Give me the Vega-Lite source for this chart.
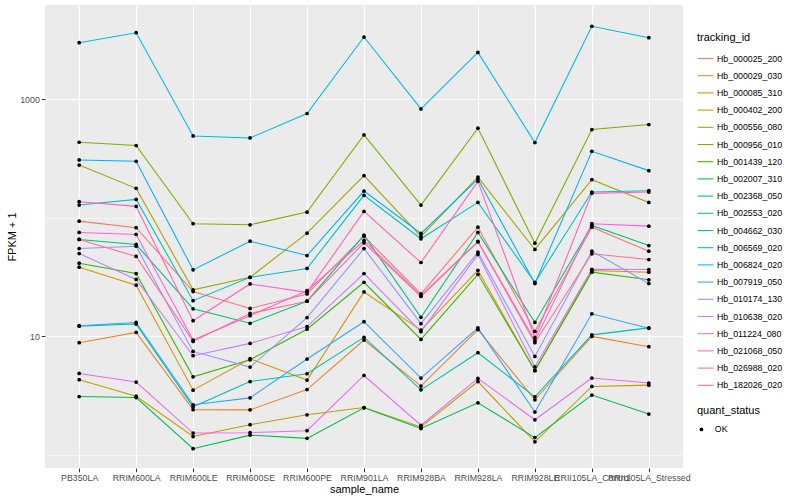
{
"$schema": "https://vega.github.io/schema/vega-lite/v6.json",
"width": 638, "height": 463,
"autosize": {"type": "none"},
"padding": {"left": 45, "top": 5, "right": 117, "bottom": 32},
"background": "white",
"data": {"values": [
{"tracking_id":"Hb_000025_200","sample_name":"PB350LA","fpkm":93.8,"quant_status":"OK"},
{"tracking_id":"Hb_000025_200","sample_name":"RRIM600LA","fpkm":82.5,"quant_status":"OK"},
{"tracking_id":"Hb_000025_200","sample_name":"RRIM600LE","fpkm":23.9,"quant_status":"OK"},
{"tracking_id":"Hb_000025_200","sample_name":"RRIM600SE","fpkm":17.2,"quant_status":"OK"},
{"tracking_id":"Hb_000025_200","sample_name":"RRIM600PE","fpkm":22.8,"quant_status":"OK"},
{"tracking_id":"Hb_000025_200","sample_name":"RRIM901LA","fpkm":70.0,"quant_status":"OK"},
{"tracking_id":"Hb_000025_200","sample_name":"RRIM928BA","fpkm":22.8,"quant_status":"OK"},
{"tracking_id":"Hb_000025_200","sample_name":"RRIM928LA","fpkm":83.4,"quant_status":"OK"},
{"tracking_id":"Hb_000025_200","sample_name":"RRIM928LE","fpkm":11.0,"quant_status":"OK"},
{"tracking_id":"Hb_000025_200","sample_name":"RRII105LA_Control","fpkm":83.4,"quant_status":"OK"},
{"tracking_id":"Hb_000025_200","sample_name":"RRII105LA_Stressed","fpkm":52.3,"quant_status":"OK"},
{"tracking_id":"Hb_000029_030","sample_name":"PB350LA","fpkm":8.85,"quant_status":"OK"},
{"tracking_id":"Hb_000029_030","sample_name":"RRIM600LA","fpkm":10.8,"quant_status":"OK"},
{"tracking_id":"Hb_000029_030","sample_name":"RRIM600LE","fpkm":2.41,"quant_status":"OK"},
{"tracking_id":"Hb_000029_030","sample_name":"RRIM600SE","fpkm":2.40,"quant_status":"OK"},
{"tracking_id":"Hb_000029_030","sample_name":"RRIM600PE","fpkm":3.56,"quant_status":"OK"},
{"tracking_id":"Hb_000029_030","sample_name":"RRIM901LA","fpkm":9.32,"quant_status":"OK"},
{"tracking_id":"Hb_000029_030","sample_name":"RRIM928BA","fpkm":3.81,"quant_status":"OK"},
{"tracking_id":"Hb_000029_030","sample_name":"RRIM928LA","fpkm":11.4,"quant_status":"OK"},
{"tracking_id":"Hb_000029_030","sample_name":"RRIM928LE","fpkm":2.92,"quant_status":"OK"},
{"tracking_id":"Hb_000029_030","sample_name":"RRII105LA_Control","fpkm":10.0,"quant_status":"OK"},
{"tracking_id":"Hb_000029_030","sample_name":"RRII105LA_Stressed","fpkm":8.18,"quant_status":"OK"},
{"tracking_id":"Hb_000085_310","sample_name":"PB350LA","fpkm":38.3,"quant_status":"OK"},
{"tracking_id":"Hb_000085_310","sample_name":"RRIM600LA","fpkm":27.0,"quant_status":"OK"},
{"tracking_id":"Hb_000085_310","sample_name":"RRIM600LE","fpkm":3.52,"quant_status":"OK"},
{"tracking_id":"Hb_000085_310","sample_name":"RRIM600SE","fpkm":6.48,"quant_status":"OK"},
{"tracking_id":"Hb_000085_310","sample_name":"RRIM600PE","fpkm":4.28,"quant_status":"OK"},
{"tracking_id":"Hb_000085_310","sample_name":"RRIM901LA","fpkm":23.7,"quant_status":"OK"},
{"tracking_id":"Hb_000085_310","sample_name":"RRIM928BA","fpkm":11.3,"quant_status":"OK"},
{"tracking_id":"Hb_000085_310","sample_name":"RRIM928LA","fpkm":36.1,"quant_status":"OK"},
{"tracking_id":"Hb_000085_310","sample_name":"RRIM928LE","fpkm":5.13,"quant_status":"OK"},
{"tracking_id":"Hb_000085_310","sample_name":"RRII105LA_Control","fpkm":35.9,"quant_status":"OK"},
{"tracking_id":"Hb_000085_310","sample_name":"RRII105LA_Stressed","fpkm":34.8,"quant_status":"OK"},
{"tracking_id":"Hb_000402_200","sample_name":"PB350LA","fpkm":4.31,"quant_status":"OK"},
{"tracking_id":"Hb_000402_200","sample_name":"RRIM600LA","fpkm":3.13,"quant_status":"OK"},
{"tracking_id":"Hb_000402_200","sample_name":"RRIM600LE","fpkm":1.43,"quant_status":"OK"},
{"tracking_id":"Hb_000402_200","sample_name":"RRIM600SE","fpkm":1.80,"quant_status":"OK"},
{"tracking_id":"Hb_000402_200","sample_name":"RRIM600PE","fpkm":2.18,"quant_status":"OK"},
{"tracking_id":"Hb_000402_200","sample_name":"RRIM901LA","fpkm":2.51,"quant_status":"OK"},
{"tracking_id":"Hb_000402_200","sample_name":"RRIM928BA","fpkm":1.72,"quant_status":"OK"},
{"tracking_id":"Hb_000402_200","sample_name":"RRIM928LA","fpkm":4.16,"quant_status":"OK"},
{"tracking_id":"Hb_000402_200","sample_name":"RRIM928LE","fpkm":1.29,"quant_status":"OK"},
{"tracking_id":"Hb_000402_200","sample_name":"RRII105LA_Control","fpkm":3.78,"quant_status":"OK"},
{"tracking_id":"Hb_000402_200","sample_name":"RRII105LA_Stressed","fpkm":3.88,"quant_status":"OK"},
{"tracking_id":"Hb_000556_080","sample_name":"PB350LA","fpkm":278.9,"quant_status":"OK"},
{"tracking_id":"Hb_000556_080","sample_name":"RRIM600LA","fpkm":177.2,"quant_status":"OK"},
{"tracking_id":"Hb_000556_080","sample_name":"RRIM600LE","fpkm":24.7,"quant_status":"OK"},
{"tracking_id":"Hb_000556_080","sample_name":"RRIM600SE","fpkm":31.5,"quant_status":"OK"},
{"tracking_id":"Hb_000556_080","sample_name":"RRIM600PE","fpkm":74.3,"quant_status":"OK"},
{"tracking_id":"Hb_000556_080","sample_name":"RRIM901LA","fpkm":226.9,"quant_status":"OK"},
{"tracking_id":"Hb_000556_080","sample_name":"RRIM928BA","fpkm":69.6,"quant_status":"OK"},
{"tracking_id":"Hb_000556_080","sample_name":"RRIM928LA","fpkm":220.8,"quant_status":"OK"},
{"tracking_id":"Hb_000556_080","sample_name":"RRIM928LE","fpkm":54.1,"quant_status":"OK"},
{"tracking_id":"Hb_000556_080","sample_name":"RRII105LA_Control","fpkm":210.0,"quant_status":"OK"},
{"tracking_id":"Hb_000556_080","sample_name":"RRII105LA_Stressed","fpkm":134.9,"quant_status":"OK"},
{"tracking_id":"Hb_000956_010","sample_name":"PB350LA","fpkm":434,"quant_status":"OK"},
{"tracking_id":"Hb_000956_010","sample_name":"RRIM600LA","fpkm":407,"quant_status":"OK"},
{"tracking_id":"Hb_000956_010","sample_name":"RRIM600LE","fpkm":89.2,"quant_status":"OK"},
{"tracking_id":"Hb_000956_010","sample_name":"RRIM600SE","fpkm":87.4,"quant_status":"OK"},
{"tracking_id":"Hb_000956_010","sample_name":"RRIM600PE","fpkm":111.7,"quant_status":"OK"},
{"tracking_id":"Hb_000956_010","sample_name":"RRIM901LA","fpkm":500,"quant_status":"OK"},
{"tracking_id":"Hb_000956_010","sample_name":"RRIM928BA","fpkm":128.1,"quant_status":"OK"},
{"tracking_id":"Hb_000956_010","sample_name":"RRIM928LA","fpkm":569.8,"quant_status":"OK"},
{"tracking_id":"Hb_000956_010","sample_name":"RRIM928LE","fpkm":61.1,"quant_status":"OK"},
{"tracking_id":"Hb_000956_010","sample_name":"RRII105LA_Control","fpkm":555.5,"quant_status":"OK"},
{"tracking_id":"Hb_000956_010","sample_name":"RRII105LA_Stressed","fpkm":612.4,"quant_status":"OK"},
{"tracking_id":"Hb_001439_120","sample_name":"PB350LA","fpkm":41.4,"quant_status":"OK"},
{"tracking_id":"Hb_001439_120","sample_name":"RRIM600LA","fpkm":33.9,"quant_status":"OK"},
{"tracking_id":"Hb_001439_120","sample_name":"RRIM600LE","fpkm":4.56,"quant_status":"OK"},
{"tracking_id":"Hb_001439_120","sample_name":"RRIM600SE","fpkm":6.35,"quant_status":"OK"},
{"tracking_id":"Hb_001439_120","sample_name":"RRIM600PE","fpkm":11.5,"quant_status":"OK"},
{"tracking_id":"Hb_001439_120","sample_name":"RRIM901LA","fpkm":28.6,"quant_status":"OK"},
{"tracking_id":"Hb_001439_120","sample_name":"RRIM928BA","fpkm":9.43,"quant_status":"OK"},
{"tracking_id":"Hb_001439_120","sample_name":"RRIM928LA","fpkm":33.4,"quant_status":"OK"},
{"tracking_id":"Hb_001439_120","sample_name":"RRIM928LE","fpkm":5.16,"quant_status":"OK"},
{"tracking_id":"Hb_001439_120","sample_name":"RRII105LA_Control","fpkm":34.8,"quant_status":"OK"},
{"tracking_id":"Hb_001439_120","sample_name":"RRII105LA_Stressed","fpkm":30.0,"quant_status":"OK"},
{"tracking_id":"Hb_002007_310","sample_name":"PB350LA","fpkm":3.11,"quant_status":"OK"},
{"tracking_id":"Hb_002007_310","sample_name":"RRIM600LA","fpkm":3.05,"quant_status":"OK"},
{"tracking_id":"Hb_002007_310","sample_name":"RRIM600LE","fpkm":1.13,"quant_status":"OK"},
{"tracking_id":"Hb_002007_310","sample_name":"RRIM600SE","fpkm":1.47,"quant_status":"OK"},
{"tracking_id":"Hb_002007_310","sample_name":"RRIM600PE","fpkm":1.38,"quant_status":"OK"},
{"tracking_id":"Hb_002007_310","sample_name":"RRIM901LA","fpkm":2.50,"quant_status":"OK"},
{"tracking_id":"Hb_002007_310","sample_name":"RRIM928BA","fpkm":1.67,"quant_status":"OK"},
{"tracking_id":"Hb_002007_310","sample_name":"RRIM928LA","fpkm":2.75,"quant_status":"OK"},
{"tracking_id":"Hb_002007_310","sample_name":"RRIM928LE","fpkm":1.40,"quant_status":"OK"},
{"tracking_id":"Hb_002007_310","sample_name":"RRII105LA_Control","fpkm":3.20,"quant_status":"OK"},
{"tracking_id":"Hb_002007_310","sample_name":"RRII105LA_Stressed","fpkm":2.21,"quant_status":"OK"},
{"tracking_id":"Hb_002368_050","sample_name":"PB350LA","fpkm":65.7,"quant_status":"OK"},
{"tracking_id":"Hb_002368_050","sample_name":"RRIM600LA","fpkm":59.6,"quant_status":"OK"},
{"tracking_id":"Hb_002368_050","sample_name":"RRIM600LE","fpkm":17.1,"quant_status":"OK"},
{"tracking_id":"Hb_002368_050","sample_name":"RRIM600SE","fpkm":12.9,"quant_status":"OK"},
{"tracking_id":"Hb_002368_050","sample_name":"RRIM600PE","fpkm":19.8,"quant_status":"OK"},
{"tracking_id":"Hb_002368_050","sample_name":"RRIM901LA","fpkm":71.4,"quant_status":"OK"},
{"tracking_id":"Hb_002368_050","sample_name":"RRIM928BA","fpkm":14.5,"quant_status":"OK"},
{"tracking_id":"Hb_002368_050","sample_name":"RRIM928LA","fpkm":75.3,"quant_status":"OK"},
{"tracking_id":"Hb_002368_050","sample_name":"RRIM928LE","fpkm":13.1,"quant_status":"OK"},
{"tracking_id":"Hb_002368_050","sample_name":"RRII105LA_Control","fpkm":86.2,"quant_status":"OK"},
{"tracking_id":"Hb_002368_050","sample_name":"RRII105LA_Stressed","fpkm":58.4,"quant_status":"OK"},
{"tracking_id":"Hb_002553_020","sample_name":"PB350LA","fpkm":12.2,"quant_status":"OK"},
{"tracking_id":"Hb_002553_020","sample_name":"RRIM600LA","fpkm":12.7,"quant_status":"OK"},
{"tracking_id":"Hb_002553_020","sample_name":"RRIM600LE","fpkm":2.55,"quant_status":"OK"},
{"tracking_id":"Hb_002553_020","sample_name":"RRIM600SE","fpkm":4.16,"quant_status":"OK"},
{"tracking_id":"Hb_002553_020","sample_name":"RRIM600PE","fpkm":4.84,"quant_status":"OK"},
{"tracking_id":"Hb_002553_020","sample_name":"RRIM901LA","fpkm":9.81,"quant_status":"OK"},
{"tracking_id":"Hb_002553_020","sample_name":"RRIM928BA","fpkm":3.54,"quant_status":"OK"},
{"tracking_id":"Hb_002553_020","sample_name":"RRIM928LA","fpkm":7.28,"quant_status":"OK"},
{"tracking_id":"Hb_002553_020","sample_name":"RRIM928LE","fpkm":3.09,"quant_status":"OK"},
{"tracking_id":"Hb_002553_020","sample_name":"RRII105LA_Control","fpkm":10.3,"quant_status":"OK"},
{"tracking_id":"Hb_002553_020","sample_name":"RRII105LA_Stressed","fpkm":11.8,"quant_status":"OK"},
{"tracking_id":"Hb_004662_030","sample_name":"PB350LA","fpkm":128.1,"quant_status":"OK"},
{"tracking_id":"Hb_004662_030","sample_name":"RRIM600LA","fpkm":143.0,"quant_status":"OK"},
{"tracking_id":"Hb_004662_030","sample_name":"RRIM600LE","fpkm":20.0,"quant_status":"OK"},
{"tracking_id":"Hb_004662_030","sample_name":"RRIM600SE","fpkm":31.5,"quant_status":"OK"},
{"tracking_id":"Hb_004662_030","sample_name":"RRIM600PE","fpkm":37.4,"quant_status":"OK"},
{"tracking_id":"Hb_004662_030","sample_name":"RRIM901LA","fpkm":154.7,"quant_status":"OK"},
{"tracking_id":"Hb_004662_030","sample_name":"RRIM928BA","fpkm":66.6,"quant_status":"OK"},
{"tracking_id":"Hb_004662_030","sample_name":"RRIM928LA","fpkm":134.9,"quant_status":"OK"},
{"tracking_id":"Hb_004662_030","sample_name":"RRIM928LE","fpkm":28.5,"quant_status":"OK"},
{"tracking_id":"Hb_004662_030","sample_name":"RRII105LA_Control","fpkm":164.9,"quant_status":"OK"},
{"tracking_id":"Hb_004662_030","sample_name":"RRII105LA_Stressed","fpkm":169.5,"quant_status":"OK"},
{"tracking_id":"Hb_006569_020","sample_name":"PB350LA","fpkm":3000,"quant_status":"OK"},
{"tracking_id":"Hb_006569_020","sample_name":"RRIM600LA","fpkm":3641,"quant_status":"OK"},
{"tracking_id":"Hb_006569_020","sample_name":"RRIM600LE","fpkm":490.5,"quant_status":"OK"},
{"tracking_id":"Hb_006569_020","sample_name":"RRIM600SE","fpkm":471.8,"quant_status":"OK"},
{"tracking_id":"Hb_006569_020","sample_name":"RRIM600PE","fpkm":758.6,"quant_status":"OK"},
{"tracking_id":"Hb_006569_020","sample_name":"RRIM901LA","fpkm":3349,"quant_status":"OK"},
{"tracking_id":"Hb_006569_020","sample_name":"RRIM928BA","fpkm":829.5,"quant_status":"OK"},
{"tracking_id":"Hb_006569_020","sample_name":"RRIM928LA","fpkm":2486,"quant_status":"OK"},
{"tracking_id":"Hb_006569_020","sample_name":"RRIM928LE","fpkm":431.3,"quant_status":"OK"},
{"tracking_id":"Hb_006569_020","sample_name":"RRII105LA_Control","fpkm":4125,"quant_status":"OK"},
{"tracking_id":"Hb_006569_020","sample_name":"RRII105LA_Stressed","fpkm":3304,"quant_status":"OK"},
{"tracking_id":"Hb_006824_020","sample_name":"PB350LA","fpkm":307.5,"quant_status":"OK"},
{"tracking_id":"Hb_006824_020","sample_name":"RRIM600LA","fpkm":299.7,"quant_status":"OK"},
{"tracking_id":"Hb_006824_020","sample_name":"RRIM600LE","fpkm":36.4,"quant_status":"OK"},
{"tracking_id":"Hb_006824_020","sample_name":"RRIM600SE","fpkm":63.5,"quant_status":"OK"},
{"tracking_id":"Hb_006824_020","sample_name":"RRIM600PE","fpkm":48.1,"quant_status":"OK"},
{"tracking_id":"Hb_006824_020","sample_name":"RRIM901LA","fpkm":168.2,"quant_status":"OK"},
{"tracking_id":"Hb_006824_020","sample_name":"RRIM928BA","fpkm":73.8,"quant_status":"OK"},
{"tracking_id":"Hb_006824_020","sample_name":"RRIM928LA","fpkm":212.4,"quant_status":"OK"},
{"tracking_id":"Hb_006824_020","sample_name":"RRIM928LE","fpkm":27.9,"quant_status":"OK"},
{"tracking_id":"Hb_006824_020","sample_name":"RRII105LA_Control","fpkm":364.1,"quant_status":"OK"},
{"tracking_id":"Hb_006824_020","sample_name":"RRII105LA_Stressed","fpkm":250.1,"quant_status":"OK"},
{"tracking_id":"Hb_007919_050","sample_name":"PB350LA","fpkm":12.3,"quant_status":"OK"},
{"tracking_id":"Hb_007919_050","sample_name":"RRIM600LA","fpkm":13.1,"quant_status":"OK"},
{"tracking_id":"Hb_007919_050","sample_name":"RRIM600LE","fpkm":2.65,"quant_status":"OK"},
{"tracking_id":"Hb_007919_050","sample_name":"RRIM600SE","fpkm":3.03,"quant_status":"OK"},
{"tracking_id":"Hb_007919_050","sample_name":"RRIM600PE","fpkm":6.44,"quant_status":"OK"},
{"tracking_id":"Hb_007919_050","sample_name":"RRIM901LA","fpkm":13.3,"quant_status":"OK"},
{"tracking_id":"Hb_007919_050","sample_name":"RRIM928BA","fpkm":4.45,"quant_status":"OK"},
{"tracking_id":"Hb_007919_050","sample_name":"RRIM928LA","fpkm":11.8,"quant_status":"OK"},
{"tracking_id":"Hb_007919_050","sample_name":"RRIM928LE","fpkm":2.30,"quant_status":"OK"},
{"tracking_id":"Hb_007919_050","sample_name":"RRII105LA_Control","fpkm":15.5,"quant_status":"OK"},
{"tracking_id":"Hb_007919_050","sample_name":"RRII105LA_Stressed","fpkm":11.7,"quant_status":"OK"},
{"tracking_id":"Hb_010174_130","sample_name":"PB350LA","fpkm":55.1,"quant_status":"OK"},
{"tracking_id":"Hb_010174_130","sample_name":"RRIM600LA","fpkm":57.6,"quant_status":"OK"},
{"tracking_id":"Hb_010174_130","sample_name":"RRIM600LE","fpkm":7.47,"quant_status":"OK"},
{"tracking_id":"Hb_010174_130","sample_name":"RRIM600SE","fpkm":5.51,"quant_status":"OK"},
{"tracking_id":"Hb_010174_130","sample_name":"RRIM600PE","fpkm":14.4,"quant_status":"OK"},
{"tracking_id":"Hb_010174_130","sample_name":"RRIM901LA","fpkm":55.1,"quant_status":"OK"},
{"tracking_id":"Hb_010174_130","sample_name":"RRIM928BA","fpkm":12.8,"quant_status":"OK"},
{"tracking_id":"Hb_010174_130","sample_name":"RRIM928LA","fpkm":51.3,"quant_status":"OK"},
{"tracking_id":"Hb_010174_130","sample_name":"RRIM928LE","fpkm":6.78,"quant_status":"OK"},
{"tracking_id":"Hb_010174_130","sample_name":"RRII105LA_Control","fpkm":52.3,"quant_status":"OK"},
{"tracking_id":"Hb_010174_130","sample_name":"RRII105LA_Stressed","fpkm":27.9,"quant_status":"OK"},
{"tracking_id":"Hb_010638_020","sample_name":"PB350LA","fpkm":50.0,"quant_status":"OK"},
{"tracking_id":"Hb_010638_020","sample_name":"RRIM600LA","fpkm":30.2,"quant_status":"OK"},
{"tracking_id":"Hb_010638_020","sample_name":"RRIM600LE","fpkm":6.87,"quant_status":"OK"},
{"tracking_id":"Hb_010638_020","sample_name":"RRIM600SE","fpkm":8.73,"quant_status":"OK"},
{"tracking_id":"Hb_010638_020","sample_name":"RRIM600PE","fpkm":12.1,"quant_status":"OK"},
{"tracking_id":"Hb_010638_020","sample_name":"RRIM901LA","fpkm":33.9,"quant_status":"OK"},
{"tracking_id":"Hb_010638_020","sample_name":"RRIM928BA","fpkm":10.96,"quant_status":"OK"},
{"tracking_id":"Hb_010638_020","sample_name":"RRIM928LA","fpkm":49.0,"quant_status":"OK"},
{"tracking_id":"Hb_010638_020","sample_name":"RRIM928LE","fpkm":5.54,"quant_status":"OK"},
{"tracking_id":"Hb_010638_020","sample_name":"RRII105LA_Control","fpkm":36.8,"quant_status":"OK"},
{"tracking_id":"Hb_010638_020","sample_name":"RRII105LA_Stressed","fpkm":36.6,"quant_status":"OK"},
{"tracking_id":"Hb_011224_080","sample_name":"PB350LA","fpkm":4.87,"quant_status":"OK"},
{"tracking_id":"Hb_011224_080","sample_name":"RRIM600LA","fpkm":4.12,"quant_status":"OK"},
{"tracking_id":"Hb_011224_080","sample_name":"RRIM600LE","fpkm":1.53,"quant_status":"OK"},
{"tracking_id":"Hb_011224_080","sample_name":"RRIM600SE","fpkm":1.54,"quant_status":"OK"},
{"tracking_id":"Hb_011224_080","sample_name":"RRIM600PE","fpkm":1.60,"quant_status":"OK"},
{"tracking_id":"Hb_011224_080","sample_name":"RRIM901LA","fpkm":4.68,"quant_status":"OK"},
{"tracking_id":"Hb_011224_080","sample_name":"RRIM928BA","fpkm":1.78,"quant_status":"OK"},
{"tracking_id":"Hb_011224_080","sample_name":"RRIM928LA","fpkm":4.42,"quant_status":"OK"},
{"tracking_id":"Hb_011224_080","sample_name":"RRIM928LE","fpkm":1.98,"quant_status":"OK"},
{"tracking_id":"Hb_011224_080","sample_name":"RRII105LA_Control","fpkm":4.45,"quant_status":"OK"},
{"tracking_id":"Hb_011224_080","sample_name":"RRII105LA_Stressed","fpkm":4.04,"quant_status":"OK"},
{"tracking_id":"Hb_021068_050","sample_name":"PB350LA","fpkm":75.3,"quant_status":"OK"},
{"tracking_id":"Hb_021068_050","sample_name":"RRIM600LA","fpkm":72.4,"quant_status":"OK"},
{"tracking_id":"Hb_021068_050","sample_name":"RRIM600LE","fpkm":9.32,"quant_status":"OK"},
{"tracking_id":"Hb_021068_050","sample_name":"RRIM600SE","fpkm":14.96,"quant_status":"OK"},
{"tracking_id":"Hb_021068_050","sample_name":"RRIM600PE","fpkm":24.3,"quant_status":"OK"},
{"tracking_id":"Hb_021068_050","sample_name":"RRIM901LA","fpkm":64.4,"quant_status":"OK"},
{"tracking_id":"Hb_021068_050","sample_name":"RRIM928BA","fpkm":22.1,"quant_status":"OK"},
{"tracking_id":"Hb_021068_050","sample_name":"RRIM928LA","fpkm":63.2,"quant_status":"OK"},
{"tracking_id":"Hb_021068_050","sample_name":"RRIM928LE","fpkm":9.20,"quant_status":"OK"},
{"tracking_id":"Hb_021068_050","sample_name":"RRII105LA_Control","fpkm":89.2,"quant_status":"OK"},
{"tracking_id":"Hb_021068_050","sample_name":"RRII105LA_Stressed","fpkm":85.1,"quant_status":"OK"},
{"tracking_id":"Hb_026988_020","sample_name":"PB350LA","fpkm":136.8,"quant_status":"OK"},
{"tracking_id":"Hb_026988_020","sample_name":"RRIM600LA","fpkm":124.9,"quant_status":"OK"},
{"tracking_id":"Hb_026988_020","sample_name":"RRIM600LE","fpkm":13.57,"quant_status":"OK"},
{"tracking_id":"Hb_026988_020","sample_name":"RRIM600SE","fpkm":27.7,"quant_status":"OK"},
{"tracking_id":"Hb_026988_020","sample_name":"RRIM600PE","fpkm":23.5,"quant_status":"OK"},
{"tracking_id":"Hb_026988_020","sample_name":"RRIM901LA","fpkm":113.3,"quant_status":"OK"},
{"tracking_id":"Hb_026988_020","sample_name":"RRIM928BA","fpkm":42.0,"quant_status":"OK"},
{"tracking_id":"Hb_026988_020","sample_name":"RRIM928LA","fpkm":203.1,"quant_status":"OK"},
{"tracking_id":"Hb_026988_020","sample_name":"RRIM928LE","fpkm":9.75,"quant_status":"OK"},
{"tracking_id":"Hb_026988_020","sample_name":"RRII105LA_Control","fpkm":160.8,"quant_status":"OK"},
{"tracking_id":"Hb_026988_020","sample_name":"RRII105LA_Stressed","fpkm":164.9,"quant_status":"OK"},
{"tracking_id":"Hb_182026_020","sample_name":"PB350LA","fpkm":65.7,"quant_status":"OK"},
{"tracking_id":"Hb_182026_020","sample_name":"RRIM600LA","fpkm":47.2,"quant_status":"OK"},
{"tracking_id":"Hb_182026_020","sample_name":"RRIM600LE","fpkm":9.07,"quant_status":"OK"},
{"tracking_id":"Hb_182026_020","sample_name":"RRIM600SE","fpkm":15.6,"quant_status":"OK"},
{"tracking_id":"Hb_182026_020","sample_name":"RRIM600PE","fpkm":19.8,"quant_status":"OK"},
{"tracking_id":"Hb_182026_020","sample_name":"RRIM901LA","fpkm":61.6,"quant_status":"OK"},
{"tracking_id":"Hb_182026_020","sample_name":"RRIM928BA","fpkm":21.7,"quant_status":"OK"},
{"tracking_id":"Hb_182026_020","sample_name":"RRIM928LA","fpkm":62.8,"quant_status":"OK"},
{"tracking_id":"Hb_182026_020","sample_name":"RRIM928LE","fpkm":8.85,"quant_status":"OK"},
{"tracking_id":"Hb_182026_020","sample_name":"RRII105LA_Control","fpkm":49.7,"quant_status":"OK"},
{"tracking_id":"Hb_182026_020","sample_name":"RRII105LA_Stressed","fpkm":44.5,"quant_status":"OK"}
]},
"encoding": {
  "x": {"field": "sample_name", "type": "nominal",
    "sort": ["PB350LA","RRIM600LA","RRIM600LE","RRIM600SE","RRIM600PE","RRIM901LA","RRIM928BA","RRIM928LA","RRIM928LE","RRII105LA_Control","RRII105LA_Stressed"],
    "scale": {"type": "point", "padding": 0.6, "domain": ["PB350LA","RRIM600LA","RRIM600LE","RRIM600SE","RRIM600PE","RRIM901LA","RRIM928BA","RRIM928LA","RRIM928LE","RRII105LA_Control","RRII105LA_Stressed"]},
    "title": "sample_name",
    "axis": {"labelAngle": 0, "labelOverlap": false, "labelBound": false, "labelPadding": 2, "titlePadding": 1}
  },
  "y": {"field": "fpkm", "type": "quantitative",
    "scale": {"type": "log", "domain": [0.776, 6240], "nice": false, "zero": false},
    "title": "FPKM + 1",
    "axis": {"values": [1, 10, 100, 1000],
      "labelExpr": "datum.value == 10 || datum.value == 1000 ? format(datum.value, 'd') : ''",
      "gridWidth": {"condition": {"test": "datum.value == 10 || datum.value == 1000", "value": 1.1}, "value": 0.55},
      "tickOpacity": {"condition": {"test": "datum.value == 10 || datum.value == 1000", "value": 1}, "value": 0},
      "labelPadding": 2, "titlePadding": 2}
  }
},
"layer": [
  {"mark": {"type": "line", "strokeWidth": 1.07},
   "encoding": {"color": {"field": "tracking_id", "type": "nominal",
     "scale": {"domain": ["Hb_000025_200","Hb_000029_030","Hb_000085_310","Hb_000402_200","Hb_000556_080","Hb_000956_010","Hb_001439_120","Hb_002007_310","Hb_002368_050","Hb_002553_020","Hb_004662_030","Hb_006569_020","Hb_006824_020","Hb_007919_050","Hb_010174_130","Hb_010638_020","Hb_011224_080","Hb_021068_050","Hb_026988_020","Hb_182026_020"],
               "range": ["#F8766D","#EA8331","#D89000","#C09B00","#A3A500","#7CAE00","#39B600","#00BB4E","#00BF7D","#00C1A3","#00BFC4","#00BAE0","#00B0F6","#35A2FF","#9590FF","#C77CFF","#E76BF3","#FA62DB","#FF62BC","#FF6C91"]},
     "legend": {"title": "tracking_id", "orient": "none", "legendX": 652, "legendY": 27, "symbolType": "stroke", "symbolStrokeWidth": 1.07, "symbolSize": 250, "rowPadding": 3.2, "titlePadding": 7, "labelOffset": 3}}}},
  {"mark": {"type": "point", "filled": true, "size": 14, "color": "black", "opacity": 1},
   "encoding": {"shape": {"field": "quant_status", "type": "nominal", "scale": {"range": ["circle"]},
     "legend": {"title": "quant_status", "orient": "none", "legendX": 652, "legendY": 400, "symbolFillColor": "black", "symbolStrokeColor": "black", "symbolSize": 14, "titlePadding": 9, "labelOffset": 9}}}}
],
"config": {
  "font": "Liberation Sans",
  "view": {"fill": "#EBEBEB", "stroke": null},
  "axis": {"grid": true, "gridColor": "white", "gridWidth": 1.1, "domain": false, "tickColor": "#333333", "tickSize": 3.7, "tickWidth": 1.07,
    "labelColor": "#4D4D4D", "labelFontSize": 8.8, "titleFontSize": 11, "titleColor": "black", "titleFontWeight": "normal"},
  "legend": {"titleFontSize": 11, "titleFontWeight": "normal", "titleColor": "black", "labelFontSize": 8.8, "labelColor": "black", "padding": 0}
}
}
